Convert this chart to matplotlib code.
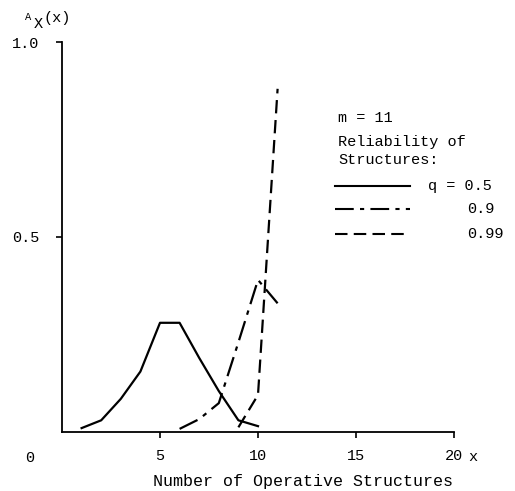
import matplotlib
matplotlib.use("Agg")
import matplotlib.pyplot as plt
from matplotlib.lines import Line2D

plt.rcParams['font.family'] = ['Liberation Mono', 'DejaVu Sans Mono']

x_q05 = [1, 2, 3, 4, 5, 6, 7, 8, 9, 10]
a_q05 = [0.01, 0.03, 0.085, 0.155, 0.28, 0.28, 0.19, 0.105, 0.03, 0.015]
x_q09 = [6, 7, 8, 9, 10, 11]
a_q09 = [0.008, 0.033, 0.074, 0.23, 0.39, 0.33]
x_q099 = [9, 10, 11]
a_q099 = [0.012, 0.095, 0.88]
legend_labels = ["q = 0.5", "0.9", "0.99"]
xticks = [5, 10, 15, 20]
yticks = [0.5, 1.0]

W, H = 515, 491
fig = plt.figure(figsize=(W/100, H/100), dpi=100)
ax = fig.add_axes([62/W, 1-432/H, (454-62)/W, (432-42)/H])

styles = [dict(ls='-'), dict(dashes=(9, 3, 2, 3)), dict(dashes=(6, 3))]
for xs, ys, st in zip([x_q05, x_q09, x_q099], [a_q05, a_q09, a_q099], styles):
    ax.plot(xs, ys, color='black', lw=1.6, **st)

ax.set_xlim(0, 20)
ax.set_ylim(0, 1.0)
ax.spines['top'].set_visible(False)
ax.spines['right'].set_visible(False)
ax.spines['left'].set_linewidth(1.3)
ax.spines['bottom'].set_linewidth(1.3)

ax.set_xticks(xticks)
ax.set_xticklabels([str(t) for t in xticks], fontsize=11)
ax.set_yticks(yticks)
ax.set_yticklabels(["%.1f" % t for t in yticks], fontsize=11)
ax.tick_params(axis='x', direction='out', length=4, width=1.2, pad=8)
ax.tick_params(axis='y', direction='out', length=4, width=1.2, pad=12)
ax.set_xlabel("Number of Operative Structures", fontsize=12, labelpad=8, x=0.615)

# origin label, axis name and y label
fig.text(30/W, 1-458/H, "0", fontsize=11, ha='center', va='center')
fig.text(473/W, 1-457/H, "x", fontsize=11, ha='center', va='center')
fig.text(25/W, 1-17/H, "A", fontsize=7.5, ha='left', va='center')
fig.text(34/W, 1-24/H, "X", fontsize=11, ha='left', va='center')
fig.text(44/W, 1-18/H, "(x)", fontsize=11, ha='left', va='center')

# hand-made legend
fig.text(338/W, 1-118/H, "m = 11", fontsize=11, ha='left', va='center')
fig.text(338/W, 1-142/H, "Reliability of", fontsize=11, ha='left', va='center')
fig.text(338/W, 1-160/H, "Structures:", fontsize=11, ha='left', va='center')
leg_y = [186, 209, 234]
leg_tx = [428, 467, 467]
for yy, tx, lab, st in zip(leg_y, leg_tx, legend_labels, styles):
    fig.add_artist(Line2D([335/W, 410/W], [1-yy/H, 1-yy/H], color='black', lw=1.5, **st))
    fig.text(tx/W, 1-yy/H, lab, fontsize=11, ha='left', va='center')

fig.savefig("out.png", dpi=100)
